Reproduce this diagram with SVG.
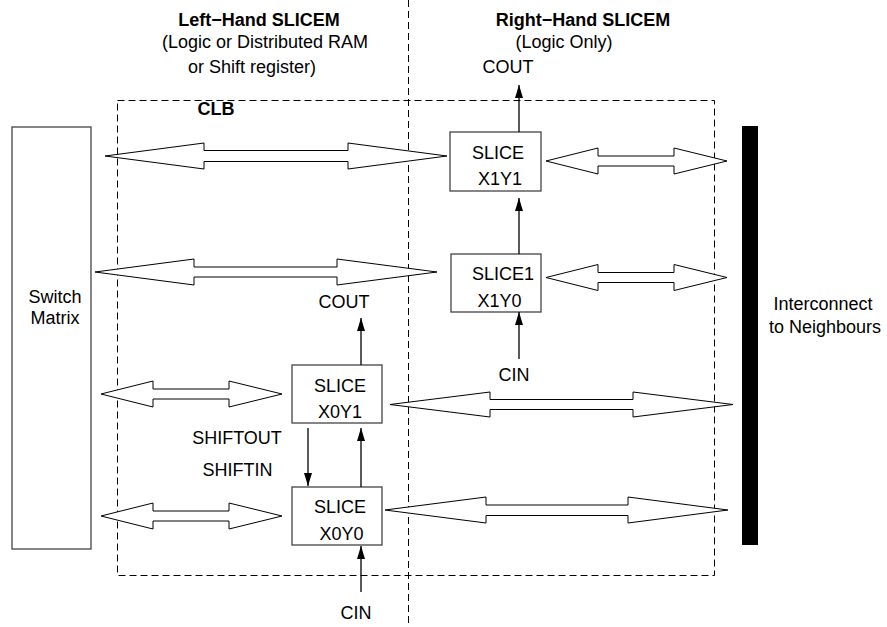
<svg xmlns="http://www.w3.org/2000/svg" width="887" height="627" viewBox="0 0 887 627">
<defs>
<style>
text{font-family:"Liberation Sans",Arial,sans-serif;font-size:18px;fill:#000;text-anchor:middle}
.b{font-weight:bold}
.dash{fill:none;stroke:#000;stroke-width:1;stroke-dasharray:7,4}
.box{fill:#fff;stroke:#444;stroke-width:1.3}
.dbl{fill:#fff;stroke:#000;stroke-width:1}
.wire{stroke:#000;stroke-width:1.3;fill:none;marker-end:url(#ah)}
</style>
<marker id="ah" markerUnits="userSpaceOnUse" markerWidth="14" markerHeight="10" refX="13" refY="4.5" orient="auto">
<path d="M0,0.5 L13,4.5 L0,8.5 z" fill="#000"/>
</marker>
</defs>
<rect width="887" height="627" fill="#fff"/>

<g id="regions">
<rect class="dash" x="117.5" y="100.5" width="597" height="475"/>
<line class="dash" x1="408.5" y1="0" x2="408.5" y2="627"/>
<text class="b" x="259" y="26">Left−Hand SLICEM</text>
<text x="265" y="48">(Logic or Distributed RAM</text>
<text x="252" y="73">or Shift register)</text>
<text class="b" x="216" y="115">CLB</text>
<text class="b" x="583" y="26">Right−Hand SLICEM</text>
<text x="564" y="48">(Logic Only)</text>
</g>

<g id="switch-matrix">
<rect class="box" x="12" y="127" width="79" height="422"/>
<text x="55" y="303">Switch</text>
<text x="55" y="324">Matrix</text>
</g>

<g id="interconnect">
<rect x="742" y="126" width="16" height="419" fill="#000"/>
<text x="823" y="310">Interconnect</text>
<text x="825" y="333">to Neighbours</text>
</g>

<g id="slice-x1y1">
<rect class="box" x="450" y="132" width="91" height="59"/>
<text x="498" y="159">SLICE</text>
<text x="500" y="185">X1Y1</text>
</g>

<g id="slice-x1y0">
<rect class="box" x="451" y="254" width="90" height="58"/>
<text x="503" y="280">SLICE1</text>
<text x="499.5" y="307">X1Y0</text>
</g>

<g id="slice-x0y1">
<rect class="box" x="292" y="365" width="90" height="58"/>
<text x="340" y="392">SLICE</text>
<text x="340" y="418">X0Y1</text>
</g>

<g id="slice-x0y0">
<rect class="box" x="292" y="487" width="90" height="58"/>
<text x="340" y="513">SLICE</text>
<text x="341.5" y="540">X0Y0</text>
</g>

<g id="connectors">
<polygon class="dbl" points="105,156 204,143 204,150.5 348,150.5 348,143 447,156 348,169 348,161.5 204,161.5 204,169"/>
<polygon class="dbl" points="546,161 598,148 598,156 674,156 674,148 727,161 674,174 674,166 598,166 598,174"/>
<polygon class="dbl" points="95,272 194,259 194,267 337,267 337,259 437,272 337,285 337,277 194,277 194,285"/>
<polygon class="dbl" points="546,277.5 598,264.5 598,272.5 674,272.5 674,264.5 727,277.5 674,290.5 674,282.5 598,282.5 598,290.5"/>
<polygon class="dbl" points="101,394 153,381 153,389 229,389 229,381 282,394 229,407 229,399 153,399 153,407"/>
<polygon class="dbl" points="390,404.5 490,392 490,399.5 633,399.5 633,392 733,404.5 633,417 633,409.5 490,409.5 490,417"/>
<polygon class="dbl" points="101,516 153,503 153,511 229,511 229,503 282,516 229,529 229,521 153,521 153,529"/>
<polygon class="dbl" points="385,510 486,497 486,505 628,505 628,497 728,510 628,523 628,515.5 486,515.5 486,523"/>

<line class="wire" x1="519" y1="132" x2="519" y2="85"/>
<line class="wire" x1="519" y1="254" x2="519" y2="198"/>
<line class="wire" x1="519" y1="359" x2="519" y2="312"/>
<line class="wire" x1="361" y1="365" x2="361" y2="318"/>
<line class="wire" x1="361" y1="487" x2="361" y2="428"/>
<line class="wire" x1="308" y1="428" x2="308" y2="486"/>
<line class="wire" x1="361" y1="592" x2="361" y2="546"/>

<text x="508" y="73">COUT</text>
<text x="514" y="381">CIN</text>
<text x="344" y="308">COUT</text>
<text x="237" y="444">SHIFTOUT</text>
<text x="237.5" y="476">SHIFTIN</text>
<text x="356" y="619">CIN</text>
</g>
</svg>
